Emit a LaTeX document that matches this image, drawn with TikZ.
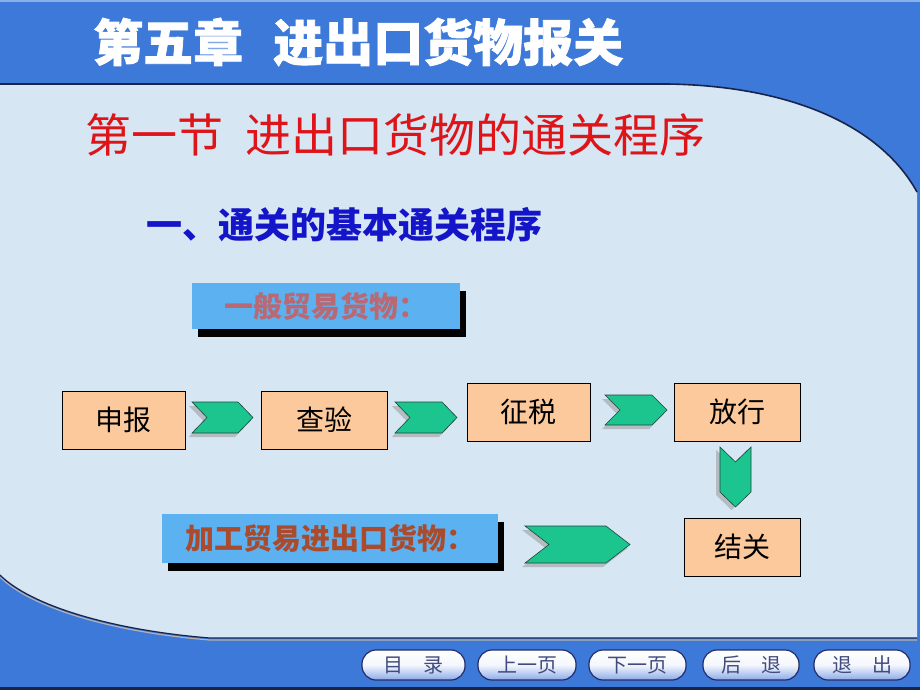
\documentclass[tikz,border=0pt]{standalone}
\usepackage{fontspec}
\newfontfamily\cjk{Noto Sans CJK SC}
\newfontfamily\cjkheavy[FakeBold=1.5]{Noto Sans CJK SC}
\usetikzlibrary{shadows}
\definecolor{bgblue}{RGB}{60,121,216}
\definecolor{paper}{RGB}{214,230,243}
\definecolor{edgecol}{RGB}{25,35,75}
\definecolor{procfill}{RGB}{251,201,155}
\definecolor{labfill}{RGB}{92,178,240}
\definecolor{chevgreen}{RGB}{28,196,142}
\definecolor{chevline}{RGB}{30,70,60}
\definecolor{titlered}{RGB}{222,20,25}
\definecolor{secblue}{RGB}{20,20,200}
\definecolor{labtextA}{RGB}{185,105,115}
\definecolor{labtextB}{RGB}{170,75,45}
\definecolor{btnline}{RGB}{35,45,105}
\definecolor{btntext}{RGB}{65,75,125}
\definecolor{btnlow}{RGB}{140,170,232}
% horizontal chevron centred on coordinate #1: width #2, height #3, tip #4
\newcommand\chevRight[4]{%
  \fill[chevshade] ([shift={(-3,4)}]#1) ++(-#2/2,-#3/2) -- ++(#2-#4,0) -- ++(#4,#3/2)
    -- ++(-#4,#3/2) -- ++(-#2+#4,0) -- ++(#4,-#3/2) -- cycle;
  \filldraw[chevbody] (#1) ++(-#2/2,-#3/2) -- ++(#2-#4,0) -- ++(#4,#3/2)
    -- ++(-#4,#3/2) -- ++(-#2+#4,0) -- ++(#4,-#3/2) -- cycle;}
% downward chevron centred on coordinate #1
\newcommand\chevDown[4]{%
  \fill[chevshade] ([shift={(-4,3)}]#1) ++(-#2/2,-#3/2) -- ++(#2/2,#4) -- ++(#2/2,-#4)
    -- ++(0,#3-#4) -- ++(-#2/2,#4) -- ++(-#2/2,-#4) -- cycle;
  \filldraw[chevbody] (#1) ++(-#2/2,-#3/2) -- ++(#2/2,#4) -- ++(#2/2,-#4)
    -- ++(0,#3-#4) -- ++(-#2/2,#4) -- ++(-#2/2,-#4) -- cycle;}
\begin{document}
\begin{tikzpicture}[x=1pt,y=-1pt,
  procbox/.style={draw=black, line width=0.8pt, fill=procfill, inner sep=0pt,
    font=\cjk\fontsize{28}{28}\selectfont},
  labelbox/.style={fill=labfill, inner sep=0pt,
    font=\cjk\bfseries\fontsize{29}{29}\selectfont,
    drop shadow={shadow xshift=6pt, shadow yshift=-8pt, fill=black, opacity=1}},
  chevbody/.style={draw=chevline, line width=0.6pt, fill=chevgreen, line join=miter},
  chevshade/.style={fill=gray!80, opacity=0.55},
  navbtn/.style={draw=btnline, line width=1.2pt, rounded corners=14pt,
    top color=white, bottom color=btnlow, middle color=white!90!btnlow,
    minimum height=30pt, inner sep=0pt, text=btntext,
    font=\cjk\fontsize{20}{20}\selectfont},
  headtext/.style={anchor=west, inner sep=0pt},
]
\useasboundingbox (0,0) rectangle (920,690);
% background
\fill[bgblue] (0,0) rectangle (920,690);
\fill[bgblue!60!white] (0,0) rectangle (920,2.5);
\fill[paper] (0,84) -- (668,84) .. controls (790,86) and (880,125) .. (917,192)
  -- (917,638) -- (210,638) .. controls (110,630) and (30,605) .. (0,575) -- cycle;
\draw[edgecol, line width=1.6pt] (0,84) -- (668,84) .. controls (790,86) and (880,125) .. (917,192);
\draw[gray!60, line width=1.2pt] (0,577) .. controls (30,607) and (110,632) .. (210,640) -- (917,640);
\draw[edgecol, line width=1.2pt] (0,575) .. controls (30,605) and (110,630) .. (210,638) -- (917,638);
\fill[edgecol] (0,687) rectangle (920,690);

% headings
\node[headtext, text=white, font=\cjkheavy\bfseries\fontsize{50}{50}\selectfont] (title) at (93,42) {第五章\hspace{30pt}进出口货物报关};
\node[headtext, text=titlered, font=\cjk\fontsize{46}{46}\selectfont] (section) at (85,135) {第一节\hspace{22pt}进出口货物的通关程序};
\node[headtext, text=secblue, font=\cjk\bfseries\fontsize{36}{36}\selectfont] (sub) at (146,225) {一、通关的基本通关程序};

% label boxes
\node[labelbox, minimum width=268pt, minimum height=46pt, text=labtextA] (general) at (326,306) {一般贸易货物：};
\node[labelbox, minimum width=336pt, minimum height=49pt, text=labtextB] (processing) at (330,538.5) {加工贸易进出口货物：};

% process boxes
\node[procbox, minimum width=123pt, minimum height=58pt] (declare) at (123.5,420) {申报};
\node[procbox, minimum width=126pt, minimum height=58pt] (inspect) at (324,420) {查验};
\node[procbox, minimum width=123pt, minimum height=58pt] (tax) at (528.5,412) {征税};
\node[procbox, minimum width=126pt, minimum height=58pt] (release) at (737,412) {放行};
\node[procbox, minimum width=116pt, minimum height=58pt] (close) at (742,547) {结关};

% chevrons between the steps
\coordinate (c1) at (222.5,417.5);
\coordinate (c2) at (426,417.5);
\coordinate (c3) at (636,410);
\coordinate (c4) at (735.5,477);
\coordinate (c5) at (577.5,544.5);
\chevRight{c1}{61}{31}{15}
\chevRight{c2}{62}{31}{15}
\chevRight{c3}{62}{30}{15}
\chevDown{c4}{31}{60}{15}
\chevRight{c5}{105}{37}{24}

% navigation buttons
\node[navbtn, minimum width=103pt] (bcat) at (413.5,665) {目\hspace{1em}录};
\node[navbtn, minimum width=98pt] (bprev) at (527,665) {上一页};
\node[navbtn, minimum width=97pt] (bnext) at (637.5,665) {下一页};
\node[navbtn, minimum width=96pt] (bback) at (751,665) {后\hspace{1em}退};
\node[navbtn, minimum width=96pt] (bexit) at (862,665) {退\hspace{1em}出};
\end{tikzpicture}
\end{document}
